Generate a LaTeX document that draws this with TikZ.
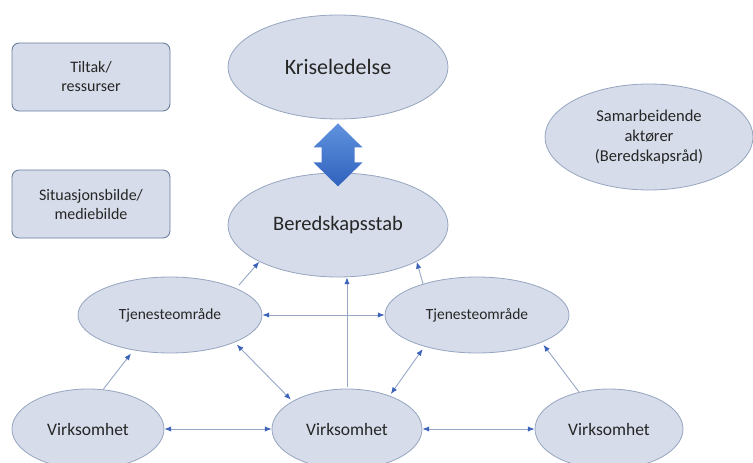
\documentclass[tikz,border=0pt]{standalone}
\usepackage{fontspec}
\setmainfont{Carlito}
\usepackage{tikz}
\usetikzlibrary{arrows.meta,shapes.geometric}
\definecolor{BeredFill}{RGB}{214,220,233}
\definecolor{BeredEdge}{RGB}{150,165,192}
\definecolor{BeredBox}{RGB}{105,125,158}
\definecolor{BeredLine}{RGB}{150,166,198}
\definecolor{BeredTip}{RGB}{62,100,185}
\definecolor{BeredText}{RGB}{38,38,38}
\definecolor{BeredTop}{RGB}{96,146,222}
\definecolor{BeredBot}{RGB}{48,98,190}

\begin{document}
\begin{tikzpicture}[
  x=1pt,y=-1pt,
  oval/.style={
    ellipse,draw=BeredEdge,fill=BeredFill,line width=0.8pt,
    inner sep=0pt,align=center,text=BeredText
  },
  box/.style={
    draw=BeredBox,fill=BeredFill,rounded corners=2.5mm,line width=0.9pt,
    minimum width=158pt,minimum height=68pt,inner sep=0pt,
    align=center,text=BeredText,font=\fontsize{16}{19}\selectfont
  },
  arr/.style={-{Latex[length=2.4mm,width=1.9mm,color=BeredTip]},BeredLine,line width=0.9pt},
  dbl/.style={{Latex[length=2.4mm,width=1.9mm,color=BeredTip]}-{Latex[length=2.4mm,width=1.9mm,color=BeredTip]},BeredLine,line width=0.9pt}
]
  \useasboundingbox (0,0) rectangle (753,463);

  \node[box] (tiltak) at (91,77) {Tiltak/\\ressurser};
  \node[box] (situasjon) at (91,204) {Situasjonsbilde/\\mediebilde};

  \node[oval,minimum width=220pt,minimum height=104pt,font=\fontsize{22}{26}\selectfont] (krise) at (338,67) {Kriseledelse};
  \node[oval,minimum width=220pt,minimum height=104pt,font=\fontsize{20.5}{24}\selectfont] (stab) at (338,225) {Beredskapsstab};
  \node[oval,minimum width=208pt,minimum height=106pt,font=\fontsize{16.5}{20}\selectfont] (samarb) at (649,137)
    {Samarbeidende\\aktører\\(Beredskapsråd)};

  \node[oval,minimum width=184pt,minimum height=76pt,font=\fontsize{15.5}{18}\selectfont] (tjL) at (170,315) {Tjenesteområde};
  \node[oval,minimum width=184pt,minimum height=76pt,font=\fontsize{15.5}{18}\selectfont] (tjR) at (477,315) {Tjenesteområde};

  \node[oval,minimum width=152pt,minimum height=80pt,font=\fontsize{17.5}{21}\selectfont] (virL) at (88,429) {Virksomhet};
  \node[oval,minimum width=150pt,minimum height=80pt,font=\fontsize{17.5}{21}\selectfont] (virM) at (347,429) {Virksomhet};
  \node[oval,minimum width=148pt,minimum height=80pt,font=\fontsize{17.5}{21}\selectfont] (virR) at (609,429) {Virksomhet};

  \shade[top color=BeredTop,bottom color=BeredBot]
    ([yshift=-4pt]krise.south) -- ++(24.5,24) -- ++(-8,0) -- ++(0,15)
    -- ++(8,0) -- ++(-24.5,24) -- ++(-24.5,-24) -- ++(8,0) -- ++(0,-15)
    -- ++(-8,0) -- cycle;

  \draw[arr,shorten <=4pt] (tjL.22) -- (stab.205);
  \draw[arr] (tjR.150) -- (stab.335);
  \draw[arr,shorten <=2pt] (virM.north) -- (virM.north |- stab.south);
  \draw[arr,shorten >=4pt] (virL.69) -- (tjL.224);
  \draw[arr,shorten >=3pt] (virR.129) -- (tjR.337);
  \draw[dbl] (tjL.east) -- (tjR.west);
  \draw[dbl,shorten <=3pt,shorten >=2pt] (tjL.337) -- (virM.153);
  \draw[dbl,shorten <=3pt,shorten >=2pt] (tjR.211) -- (virM.38);
  \draw[dbl] (virL.east) -- (virM.west);
  \draw[dbl] (virM.east) -- (virR.west);
\end{tikzpicture}
\end{document}
